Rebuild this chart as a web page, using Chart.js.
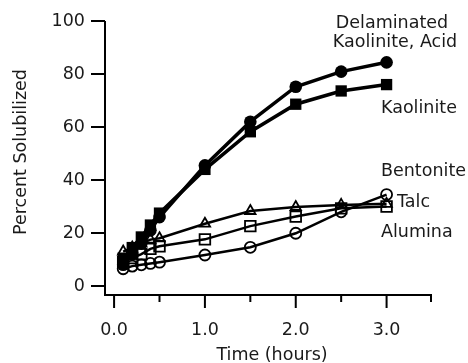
<!DOCTYPE html>
<html>
<head>
<meta charset="utf-8">
<script src="https://cdn.jsdelivr.net/npm/chart.js@4/dist/chart.umd.min.js"></script>
<style>
    html, body { margin: 0; padding: 0; background: #fff; }
</style>
</head>
<body>
<canvas id="myChart" width="468" height="363"></canvas>
<script>
// sampling times (hours)
const times = [0.1, 0.2, 0.3, 0.4, 0.5, 1.0, 1.5, 2.0, 2.5, 3.0];

// percent solubilized per mineral
const delaminated = [8, 12, 16, 21, 26, 45.5, 62, 75.2, 80.9, 84.4];
const kaolinite = [10.5, 14.5, 18.5, 23, 27.5, 44, 58.2, 68.6, 73.6, 76];
const bentonite = [13, 14.5, 16, 17.5, 18, 23.5, 28.3, 29.8, 30.6, 31];
const talc = [9, 10.5, 12, 14, 15, 17.6, 22.6, 26.2, 29.3, 30];
const alumina = [6.5, 7.5, 8, 8.5, 9, 11.7, 14.6, 19.9, 28, 34.5];

// axis ticks
const yTicks = [0, 20, 40, 60, 80, 100];
const xTicks = [0, 1, 2, 3];
const xTickLabels = ['0.0', '1.0', '2.0', '3.0'];
const xMinorTicks = [0.5, 1.5, 2.5, 3.5];

const FONT = '17.5px "DejaVu Sans", sans-serif';
const TEXT = '#1a1a1a';

const toPoints = (vals) => times.map((t, i) => ({ x: t, y: vals[i] }));

// draws the offset axes, ticks and all texts
const axesPlugin = {
    id: 'axes',
    afterDraw(chart) {
        const { ctx, chartArea } = chart;
        const xs = chart.scales.x;
        const ys = chart.scales.y;
        const left = chartArea.left;
        const bottom = chartArea.bottom;

        ctx.save();
        ctx.strokeStyle = '#000';
        ctx.lineWidth = 2;

        // y axis
        ctx.beginPath();
        ctx.moveTo(left, ys.getPixelForValue(100));
        ctx.lineTo(left, bottom - 1);
        yTicks.forEach((v) => {
            const py = ys.getPixelForValue(v);
            ctx.moveTo(left - 14, py);
            ctx.lineTo(left, py);
        });
        ctx.stroke();

        // x axis
        ctx.beginPath();
        ctx.moveTo(left - 1, bottom);
        ctx.lineTo(chartArea.right, bottom);
        xTicks.forEach((v) => {
            const px = xs.getPixelForValue(v);
            ctx.moveTo(px, bottom);
            ctx.lineTo(px, bottom + 13);
        });
        xMinorTicks.forEach((v) => {
            const px = Math.min(xs.getPixelForValue(v), chartArea.right - 1);
            ctx.moveTo(px, bottom);
            ctx.lineTo(px, bottom + 7);
        });
        ctx.stroke();

        ctx.fillStyle = TEXT;
        ctx.font = FONT;

        // tick labels
        ctx.textAlign = 'right';
        ctx.textBaseline = 'middle';
        yTicks.forEach((v) => {
            ctx.fillText(String(v), left - 20, ys.getPixelForValue(v));
        });
        ctx.textAlign = 'center';
        ctx.textBaseline = 'alphabetic';
        xTicks.forEach((v, i) => {
            ctx.fillText(xTickLabels[i], xs.getPixelForValue(v), 335);
        });

        // axis titles
        ctx.fillText('Time (hours)', 272, 360);
        ctx.save();
        ctx.translate(26, 152);
        ctx.rotate(-Math.PI / 2);
        ctx.fillText('Percent Solubilized', 0, 0);
        ctx.restore();

        // series labels
        ctx.textAlign = 'center';
        ctx.fillText('Delaminated', 392, 28);
        ctx.fillText('Kaolinite, Acid', 395, 47);
        ctx.textAlign = 'left';
        ctx.fillText('Kaolinite', 381, 113);
        ctx.fillText('Bentonite', 381, 176);
        ctx.fillText('Talc', 397, 207);
        ctx.fillText('Alumina', 381, 237);

        ctx.restore();
    },
};

const openSeries = (label, vals, style, radius) => ({
    label: label,
    data: toPoints(vals),
    borderColor: '#000',
    borderWidth: 2.5,
    pointStyle: style,
    pointRadius: radius,
    pointBorderWidth: 1.8,
    pointBorderColor: '#000',
    pointBackgroundColor: 'rgba(0,0,0,0)',
    tension: 0,
});

const filledSeries = (label, vals, style, radius) => ({
    label: label,
    data: toPoints(vals),
    borderColor: '#000',
    borderWidth: 3.5,
    pointStyle: style,
    pointRadius: radius,
    pointBorderWidth: 0,
    pointBackgroundColor: '#000',
    tension: 0,
});

const myChart = new Chart(document.getElementById('myChart'), {
    type: 'line',
    data: {
        datasets: [
            openSeries('Alumina', alumina, 'circle', 5.5),
            openSeries('Talc', talc, 'rect', 7.5),
            openSeries('Bentonite', bentonite, 'triangle', 6),
            filledSeries('Kaolinite', kaolinite, 'rect', 8),
            filledSeries('Delaminated Kaolinite, Acid', delaminated, 'circle', 6.3),
        ],
    },
    options: {
        responsive: false,
        animation: false,
        devicePixelRatio: 1,
        layout: {
            padding: { left: 105, right: 36, top: 21, bottom: 68 },
        },
        scales: {
            x: { type: 'linear', min: -0.1, max: 3.5, display: false },
            y: { type: 'linear', min: -3.4, max: 100, display: false },
        },
        plugins: {
            legend: { display: false },
            tooltip: { enabled: false },
        },
    },
    plugins: [axesPlugin],
});
</script>
</body>
</html>
